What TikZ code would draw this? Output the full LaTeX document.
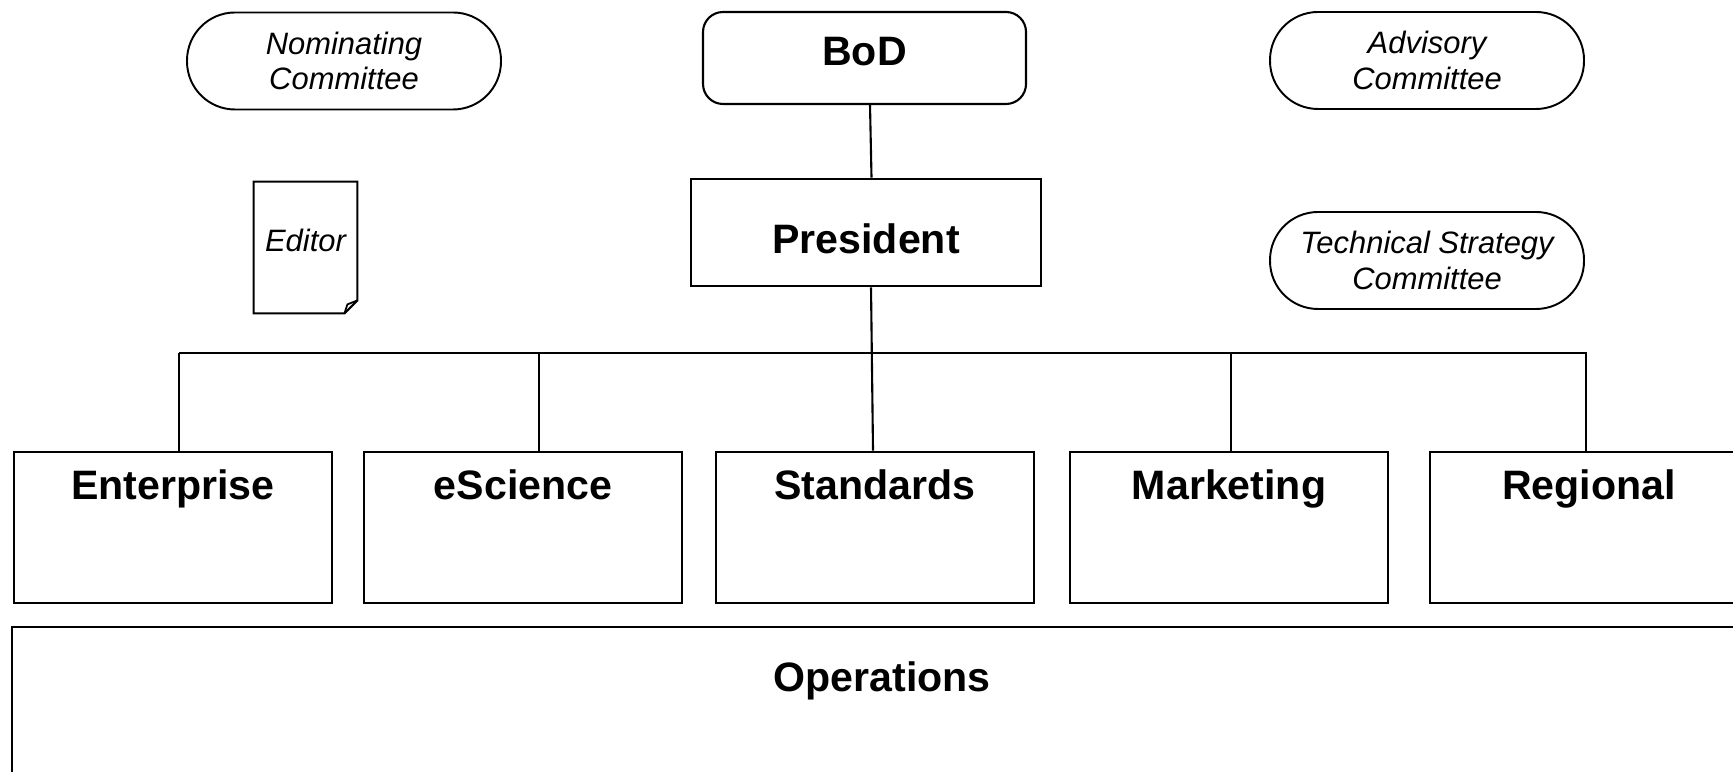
\documentclass[tikz,border=0pt]{standalone}
\usepackage{fontspec}
\setmainfont{Liberation Sans}
\usepackage{tikz}
\usetikzlibrary{arrows,shapes}

\begin{document}
\begin{tikzpicture}[thick]
  \tikzstyle{box}=[rectangle,draw,line width=.75pt,inner sep=0pt,font=\fontsize{11.7}{14}\selectfont\bfseries]
  \tikzstyle{dept}=[box,minimum width=3.18cm,minimum height=1.51cm,text height=.37cm,text depth=.92cm]
  \tikzstyle{comm}=[rectangle,draw,line width=.55pt,rounded corners=.48cm,minimum width=3.14cm,minimum height=.97cm,align=center,font=\fontsize{8.8}{10.2}\selectfont\itshape]
  \tikzstyle{wire}=[line width=.6pt]
  \path[use as bounding box,clip] (0,0) rectangle (17.33,7.71);
  % top row
  \node(nom-c) at (3.44,7.10)[comm]{Nominating\\Committee};
  \node(bod) at (8.645,7.13)[box,line width=.6pt,rounded corners=.2cm,minimum width=3.23cm,minimum height=.92cm,text height=.37cm,text depth=.21cm]{BoD};
  \node(adv-c) at (14.27,7.105)[comm]{Advisory\\Committee};
  % second row
  \node(ed) at (3.055,5.235)[inner sep=0pt,minimum width=1.01cm,minimum height=1.29cm,text height=.23cm,text depth=.14cm,font=\fontsize{8.8}{10.2}\selectfont\itshape]{Editor};
  \draw[wire](ed.north west)--(ed.north east)--([yshift=.13cm]ed.south east)--([xshift=-.13cm]ed.south east)--(ed.south west)--cycle;
  \draw[line width=.5pt]([yshift=.13cm]ed.south east)--([xshift=-.1cm,yshift=.09cm]ed.south east)--([xshift=-.13cm]ed.south east);
  \node(pres) at (8.66,5.385)[box,minimum width=3.5cm,minimum height=1.07cm,text height=.43cm,text depth=0pt]{President};
  \node(tech-c) at (14.27,5.105)[comm,text depth=-.06cm]{Technical Strategy\\Committee};
  % departments
  \node(ent) at (1.73,2.435)[dept]{Enterprise};
  \node(esci) at (5.23,2.435)[dept]{eScience};
  \node(std) at (8.75,2.435)[dept]{Standards};
  \node(mkt) at (12.29,2.435)[dept]{Marketing};
  \node(reg) at (15.89,2.435)[dept]{Regional};
  \node(ops) at (8.82,.54)[box,minimum width=17.4cm,minimum height=1.8cm,text height=.37cm,text depth=.89cm]{Operations};
  % connectors
  \coordinate(j-ent) at (1.79,4.18);
  \coordinate(j-esci) at (5.39,4.18);
  \coordinate(j-mkt) at (12.31,4.18);
  \coordinate(j-reg) at (15.86,4.18);
  \coordinate(j-end) at (15.87,4.18);
  \draw[wire]([xshift=.055cm]bod.south)--([xshift=.055cm]pres.north);
  \draw[wire]([xshift=.05cm]pres.south)--([xshift=-.02cm]std.north);
  \draw[wire](j-ent)--(j-end);
  \draw[wire](j-ent)--(j-ent |- ent.north);
  \draw[wire](j-esci)--(j-esci |- esci.north);
  \draw[wire](j-mkt)--(j-mkt |- mkt.north);
  \draw[wire](j-reg)--(j-reg |- reg.north);
\end{tikzpicture}
\end{document}
